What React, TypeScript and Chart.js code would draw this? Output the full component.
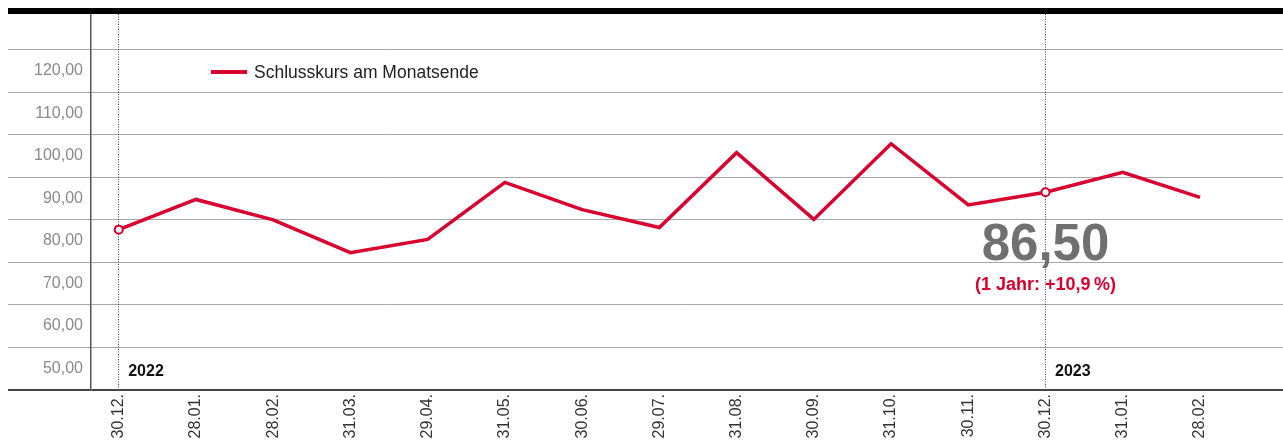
import React, { useEffect, useRef } from "react";
import { Chart, registerables } from "chart.js";

Chart.register(...registerables);

// ---- data ----
const categories = [
  "30.12.", "28.01.", "28.02.", "31.03.", "29.04.", "31.05.", "30.06.", "29.07.",
  "31.08.", "30.09.", "31.10.", "30.11.", "30.12.", "31.01.", "28.02.",
];
const closingPrices = [
  77.7, 84.8, 80.0, 72.3, 75.4, 88.8, 82.4, 78.2, 95.8, 80.1, 97.9, 83.5, 86.5, 91.2, 85.3,
];
const seriesLabel = "Schlusskurs am Monatsende";
const yTickValues = [40, 50, 60, 70, 80, 90, 100, 110, 120];
const yearMarkerIndices = [0, 12];
const yearMarkerLabels = ["2022", "2023"];
const highlightIndex = 12;
const currentValueLabel = "86,50";
const changeLabel = "(1 Jahr: +10,9\u2009%)";

// ---- styles ----
const RED = "#d9002f";
const FONT = "'Liberation Sans', Arial, sans-serif";

const formatTick = (v: number) => v.toFixed(2).replace(".", ",");

const overlayPlugin = {
  id: "overlay",
  beforeDatasetsDraw(chart: any) {
    const { ctx, chartArea, scales } = chart;
    ctx.save();
    ctx.strokeStyle = "#444";
    ctx.lineWidth = 1;
    ctx.setLineDash([1, 1.5]);
    yearMarkerIndices.forEach((i) => {
      const x = Math.floor(scales.x.getPixelForValue(i)) + 0.5;
      ctx.beginPath();
      ctx.moveTo(x, chartArea.top);
      ctx.lineTo(x, chartArea.bottom);
      ctx.stroke();
    });
    ctx.restore();
  },
  afterDatasetsDraw(chart: any) {
    const { ctx, chartArea, scales } = chart;
    const ds = chart.data.datasets[0];
    ctx.save();
    // year labels
    ctx.fillStyle = "#111";
    ctx.font = `bold 16px ${FONT}`;
    ctx.textAlign = "left";
    ctx.textBaseline = "alphabetic";
    yearMarkerIndices.forEach((i, k) => {
      const x = scales.x.getPixelForValue(i);
      ctx.fillText(yearMarkerLabels[k], x + 9.5, chartArea.bottom - 14);
    });
    // legend
    const lx = chartArea.left + 120;
    const ly = 72;
    ctx.strokeStyle = ds.borderColor;
    ctx.lineWidth = 4;
    ctx.beginPath();
    ctx.moveTo(lx, ly);
    ctx.lineTo(lx + 36, ly);
    ctx.stroke();
    ctx.fillStyle = "#222";
    ctx.font = `17.5px ${FONT}`;
    ctx.fillText(ds.label, lx + 43, ly + 5.5);
    // current value annotation
    const cx = scales.x.getPixelForValue(highlightIndex);
    const by = scales.y.getPixelForValue(70.5);
    ctx.textAlign = "center";
    ctx.fillStyle = "#707070";
    ctx.font = `bold 51px ${FONT}`;
    ctx.fillText(currentValueLabel, cx, by);
    ctx.fillStyle = RED;
    ctx.font = `bold 18px ${FONT}`;
    ctx.fillText(changeLabel, cx, by + 30);
    ctx.restore();
  },
  afterDraw(chart: any) {
    const { ctx, chartArea } = chart;
    ctx.save();
    ctx.fillStyle = "#000";
    ctx.fillRect(8, chartArea.top - 6, chart.width - 8, 6);
    ctx.restore();
  },
};

export default function App() {
  const ref = useRef<HTMLCanvasElement>(null);

  useEffect(() => {
    if (!ref.current) return;
    const chart = new Chart(ref.current, {
      type: "line",
      data: {
        datasets: [
          {
            label: seriesLabel,
            data: closingPrices.map((v, i) => ({ x: i, y: v })),
            borderColor: RED,
            borderWidth: 3.5,
            tension: 0,
            pointRadius: (c: any) => (yearMarkerIndices.includes(c.dataIndex) ? 4 : 0),
            pointHoverRadius: 0,
            pointBackgroundColor: "#fff",
            pointBorderColor: RED,
            pointBorderWidth: 2,
          },
        ],
      },
      options: {
        animation: false,
        responsive: false,
        maintainAspectRatio: false,
        layout: { autoPadding: false, padding: { left: 8, top: 14, right: 0, bottom: 0 } },
        plugins: { legend: { display: false }, tooltip: { enabled: false } },
        scales: {
          x: {
            type: "linear",
            min: -0.359,
            max: 15.075,
            afterBuildTicks: (s: any) => {
              s.ticks = categories.map((_, i) => ({ value: i }));
            },
            afterFit: (s: any) => {
              s.height = 56;
              s.paddingLeft = 0;
              s.paddingRight = 0;
            },
            grid: { display: false, drawTicks: false },
            border: { display: false },
            ticks: {
              autoSkip: false,
              minRotation: 90,
              maxRotation: 90,
              padding: 4,
              color: "#333",
              font: { family: FONT, size: 16 },
              callback: (v: any) => categories[v] ?? "",
            },
          },
          y: {
            type: "linear",
            min: 40,
            max: 128.4,
            afterBuildTicks: (s: any) => {
              s.ticks = yTickValues.map((v) => ({ value: v }));
            },
            afterFit: (s: any) => {
              s.width = 83;
              s.paddingTop = 0;
              s.paddingBottom = 0;
            },
            grid: {
              color: (c: any) => (c.tick && c.tick.value === 40 ? "#444" : "#a8a8a8"),
              lineWidth: (c: any) => (c.tick && c.tick.value === 40 ? 2 : 1),
              drawTicks: true,
              tickLength: 83,
            },
            border: { display: true, color: "#555", width: 1.5 },
            ticks: {
              padding: -75,
              labelOffset: 21,
              color: "#8a8a8a",
              font: { family: FONT, size: 16 },
              callback: (v: any) => (v === 40 ? "" : formatTick(Number(v))),
            },
          },
        },
      },
      plugins: [overlayPlugin],
    } as any);
    return () => chart.destroy();
  }, []);

  return (
    <div style={{ position: "absolute", left: 0, top: 0, width: 1283, height: 446 }}>
      <canvas ref={ref} width={1283} height={446} style={{ display: "block", width: 1283, height: 446 }} />
    </div>
  );
}
